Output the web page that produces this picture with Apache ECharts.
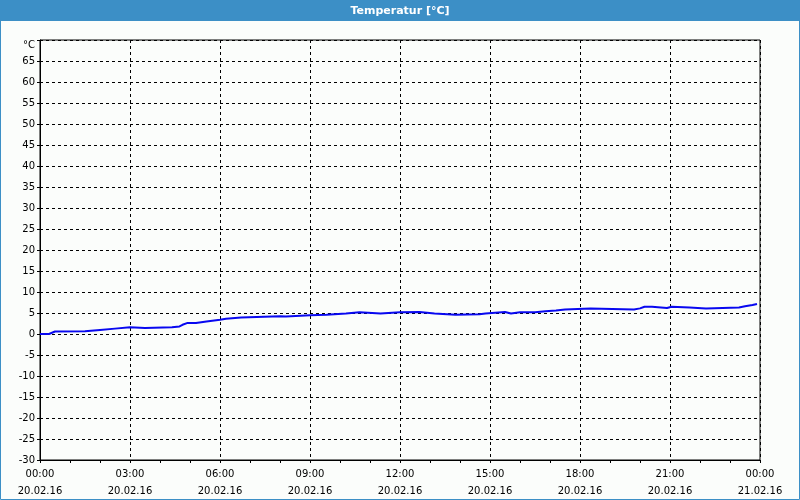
<!DOCTYPE html>
<html>
<head>
<meta charset="utf-8">
<script src="https://cdn.jsdelivr.net/npm/echarts@6/dist/echarts.min.js"></script>
<style>html,body{margin:0;padding:0;background:#fbfdfb;}#c{width:800px;height:500px;}</style>
</head>
<body>
<div id="c"></div>
<script>
// time in hours since 20.02.16 00:00
var hours = [0.0,0.3,0.5,1.5,1.55,2.0,2.05,2.5,2.55,3.0,3.05,3.5,3.55,4.4,4.45,4.65,4.75,4.9,5.2,5.25,5.55,5.6,6.0,6.05,6.2,6.25,6.7,6.75,8.0,8.2,8.25,9.0,9.05,9.55,9.6,10.2,10.25,10.65,10.7,11.35,11.4,12.0,12.65,12.7,13.15,13.2,13.85,13.9,14.65,14.7,14.85,14.9,15.5,15.55,15.7,15.75,16.0,16.5,16.55,16.85,16.9,17.2,17.25,17.5,17.55,18.35,18.4,19.8,19.85,20.0,20.15,20.4,20.45,20.9,20.95,21.05,21.1,21.65,21.7,22.2,22.25,23.3,23.35,23.5,23.55,23.75,23.8,23.9];
var temps = [0.0,0.0,0.6,0.65,0.97,0.97,1.28,1.28,1.6,1.6,1.45,1.45,1.6,1.6,1.8,1.8,2.2,2.6,2.6,3.0,3.0,3.4,3.4,3.65,3.65,3.9,3.9,4.2,4.2,4.15,4.45,4.45,4.6,4.6,4.9,4.9,5.15,5.15,4.9,4.9,5.15,5.15,5.25,4.9,4.9,4.6,4.6,4.7,4.7,4.9,4.9,5.25,5.25,4.9,4.9,5.25,5.2,5.15,5.4,5.4,5.6,5.6,5.85,5.85,6.1,6.1,5.85,5.85,6.1,6.1,6.5,6.5,6.2,6.2,6.5,6.5,6.3,6.3,6.1,6.1,6.3,6.3,6.6,6.6,6.9,6.9,7.15,7.15];
var timeLabels = ['00:00','03:00','06:00','09:00','12:00','15:00','18:00','21:00','00:00'];
var dateLabels = ['20.02.16','20.02.16','20.02.16','20.02.16','20.02.16','20.02.16','20.02.16','20.02.16','21.02.16'];
var titleText = 'Temperatur [°C]';
var unitLabel = '°C';

var data = hours.map(function(h,i){return [h,temps[i]];});
var font = 'DejaVu Sans';
var chart = echarts.init(document.getElementById('c'), null, {renderer:'canvas'});
chart.setOption({
  backgroundColor:'#fbfdfb',
  animation:false,
  textStyle:{fontFamily:font},
  graphic:[
    {type:'rect', shape:{x:0,y:0,width:800,height:21}, style:{fill:'#3c8fc6'}, z:10},
    {type:'rect', shape:{x:0.5,y:0.5,width:799,height:499}, style:{fill:null, stroke:'#3c8fc6', lineWidth:1}, z:10},
    {type:'text', x:400, y:11, style:{text:titleText, fill:'#ffffff', font:'bold 11px "DejaVu Sans"', align:'center', verticalAlign:'middle'}, z:11}
  ],
  grid:{left:40, right:40, top:40, bottom:39, show:true, borderColor:'#000', borderWidth:1, containLabel:false},
  xAxis:{
    type:'value', min:0, max:24, interval:3,
    axisLine:{show:true, onZero:false, lineStyle:{color:'#000', width:1}},
    axisTick:{show:true, length:3, lineStyle:{color:'#000'}},
    minorTick:{show:true, splitNumber:3, length:3, lineStyle:{color:'#000'}},
    splitLine:{show:true, lineStyle:{color:'#000', type:[3,3], width:1}},
    axisLabel:{color:'#000', fontSize:10, fontFamily:font, lineHeight:17, margin:6,
      formatter:function(v){var i=Math.round(v/3); return timeLabels[i]+'\n'+dateLabels[i];}}
  },
  yAxis:{
    type:'value', min:-30, max:70, interval:5,
    axisLine:{show:true, onZero:false, lineStyle:{color:'#000', width:1}},
    axisTick:{show:true, length:3, lineStyle:{color:'#000'}},
    splitLine:{show:true, lineStyle:{color:'#000', type:[3,3], width:1}},
    axisLabel:{color:'#000', fontSize:10, fontFamily:font, margin:5,
      formatter:function(v){return v===70 ? '{u|'+unitLabel+'}' : String(v);},
      rich:{u:{fontSize:10, fontFamily:font, color:'#000', padding:[11,0,0,0]}}}
  },
  series:[{
    type:'line', data:data, showSymbol:false, symbol:'none',
    lineStyle:{color:'#0808f0', width:2}, z:5
  }]
});
</script>
</body>
</html>
